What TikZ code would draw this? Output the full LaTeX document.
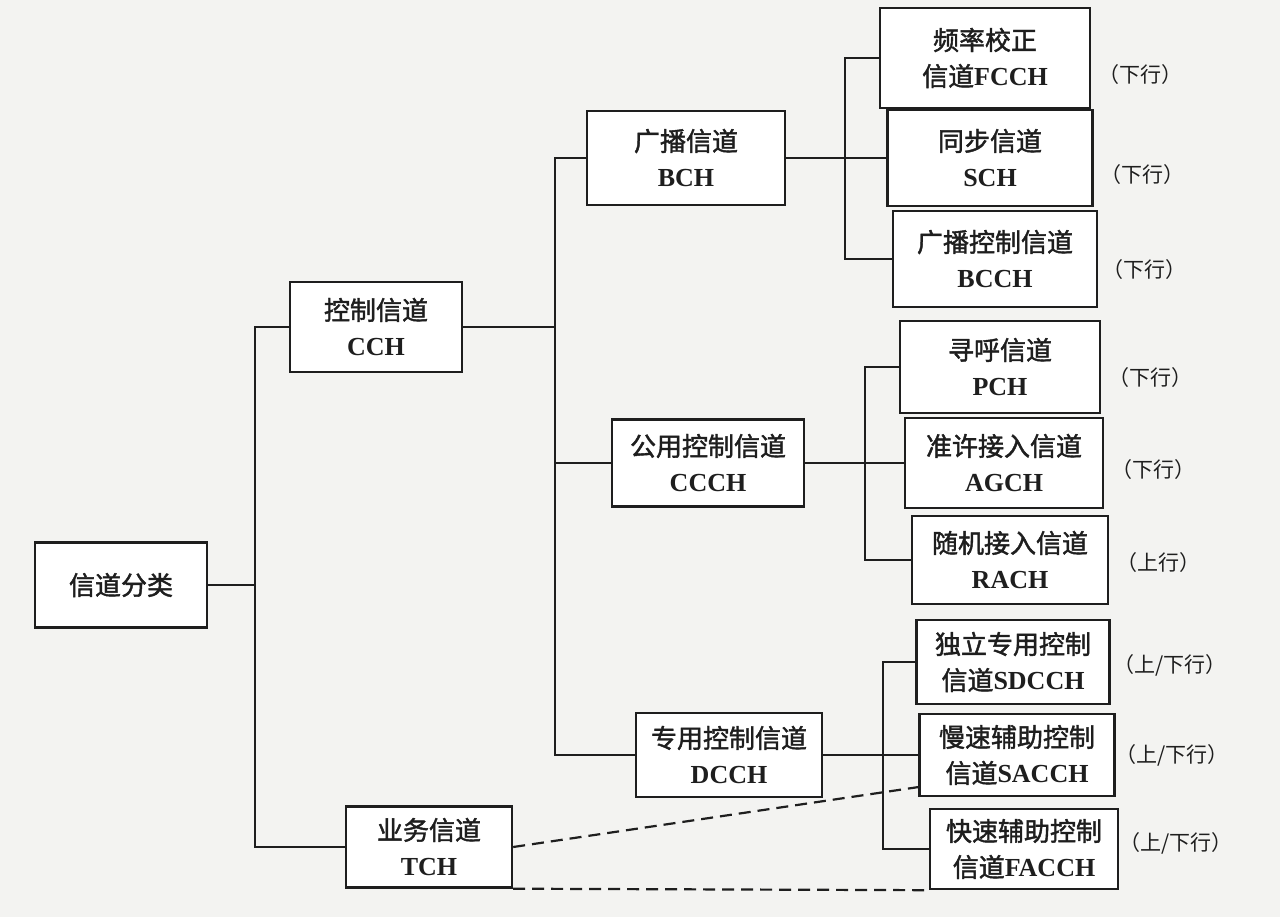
\documentclass[tikz,border=0pt]{standalone}
\usepackage{fontspec}
\setmainfont{Liberation Serif}
\newfontfamily\cjk[FakeBold=1.6]{Noto Sans CJK SC}
\newfontfamily\cjklight{Noto Sans CJK SC}
\usetikzlibrary{calc}
\definecolor{ink}{HTML}{1E1E1E}
\definecolor{paper}{HTML}{F3F3F1}
\begin{document}
\begin{tikzpicture}[x=1pt,y=-1pt,
  box/.style={draw=ink, line width=2.4pt, fill=white, align=center, inner sep=2pt,
    font=\fontsize{26}{36}\selectfont, text=ink},
  lbl/.style={font=\cjklight\fontsize{21}{24}\selectfont, text=ink},
  conn/.style={draw=ink, line width=2.2pt},
  dashline/.style={draw=ink, line width=2.2pt, dash pattern=on 12pt off 7pt}]
\fill[paper] (0,0) rectangle (1280,917);
\useasboundingbox (0,0) rectangle (1280,917);
% level 0/1
\node[box, minimum width=172, minimum height=85] (root) at (121,585) {{\cjk 信道分类}};
\node[box, minimum width=172, minimum height=90] (cch) at (376,327) {{\cjk 控制信道}\\\textbf{CCH}};
\node[box, minimum width=166, minimum height=81] (tch) at (429,847) {{\cjk 业务信道}\\\textbf{TCH}};
% level 2
\node[box, minimum width=198, minimum height=94] (bch) at (686,158) {{\cjk 广播信道}\\\textbf{BCH}};
\node[box, minimum width=192, minimum height=87] (ccch) at (708,463) {{\cjk 公用控制信道}\\\textbf{CCCH}};
\node[box, minimum width=186, minimum height=84] (dcch) at (729,755) {{\cjk 专用控制信道}\\\textbf{DCCH}};
% level 3
\node[box, minimum width=210, minimum height=100] (fcch) at (985,58) {{\cjk 频率校正}\\{\cjk 信道}\textbf{FCCH}};
\node[box, minimum width=205, minimum height=96] (sch) at (990,158) {{\cjk 同步信道}\\\textbf{SCH}};
\node[box, minimum width=204, minimum height=96] (bcch) at (995,259) {{\cjk 广播控制信道}\\\textbf{BCCH}};
\node[box, minimum width=200, minimum height=92] (pch) at (1000,367) {{\cjk 寻呼信道}\\\textbf{PCH}};
\node[box, minimum width=198, minimum height=90] (agch) at (1004,463) {{\cjk 准许接入信道}\\\textbf{AGCH}};
\node[box, minimum width=196, minimum height=88] (rach) at (1010,560) {{\cjk 随机接入信道}\\\textbf{RACH}};
\node[box, minimum width=193, minimum height=84] (sdcch) at (1013,662) {{\cjk 独立专用控制}\\{\cjk 信道}\textbf{SDCCH}};
\node[box, minimum width=195, minimum height=82] (sacch) at (1017,755) {{\cjk 慢速辅助控制}\\{\cjk 信道}\textbf{SACCH}};
\node[box, minimum width=188, minimum height=80] (facch) at (1024,849) {{\cjk 快速辅助控制}\\{\cjk 信道}\textbf{FACCH}};
% labels
\node[lbl] (l1) at (1140,75) {（下行）};
\node[lbl] (l2) at (1142,175) {（下行）};
\node[lbl] (l3) at (1144,270) {（下行）};
\node[lbl] (l4) at (1150,378) {（下行）};
\node[lbl] (l5) at (1153,470) {（下行）};
\node[lbl] (l6) at (1158,563) {（上行）};
\node[lbl] (l7) at (1170,665) {（上/下行）};
\node[lbl] (l8) at (1172,755) {（上/下行）};
\node[lbl] (l9) at (1176,843) {（上/下行）};
% bus coordinates
\coordinate (b1) at (255,0);
\coordinate (b2) at (555,0);
\coordinate (b3) at (845,0);
\coordinate (b4) at (865,0);
\coordinate (b5) at (883,0);
% connectors
\draw[conn] (root.east) -- (root.east -| b1);
\draw[conn] (cch.west) -- (cch.west -| b1) |- (tch.west);
\draw[conn] (cch.east) -- (cch.east -| b2);
\draw[conn] (bch.west) -- (bch.west -| b2) |- (dcch.west);
\draw[conn] (ccch.west) -- (ccch.west -| b2);
\draw[conn] (bch.east) -- (sch.west);
\draw[conn] (fcch.west) -- (fcch.west -| b3) |- (bcch.west);
\draw[conn] (ccch.east) -- (agch.west);
\draw[conn] (pch.west) -- (pch.west -| b4) |- (rach.west);
\draw[conn] (dcch.east) -- (sacch.west);
\draw[conn] (sdcch.west) -- (sdcch.west -| b5) |- (facch.west);
\draw[dashline] (tch.east) -- ($(sacch.south west)!0.12!(sacch.north west)$);
\draw[dashline] (tch.south east) -- (facch.south west);
\end{tikzpicture}
\end{document}
